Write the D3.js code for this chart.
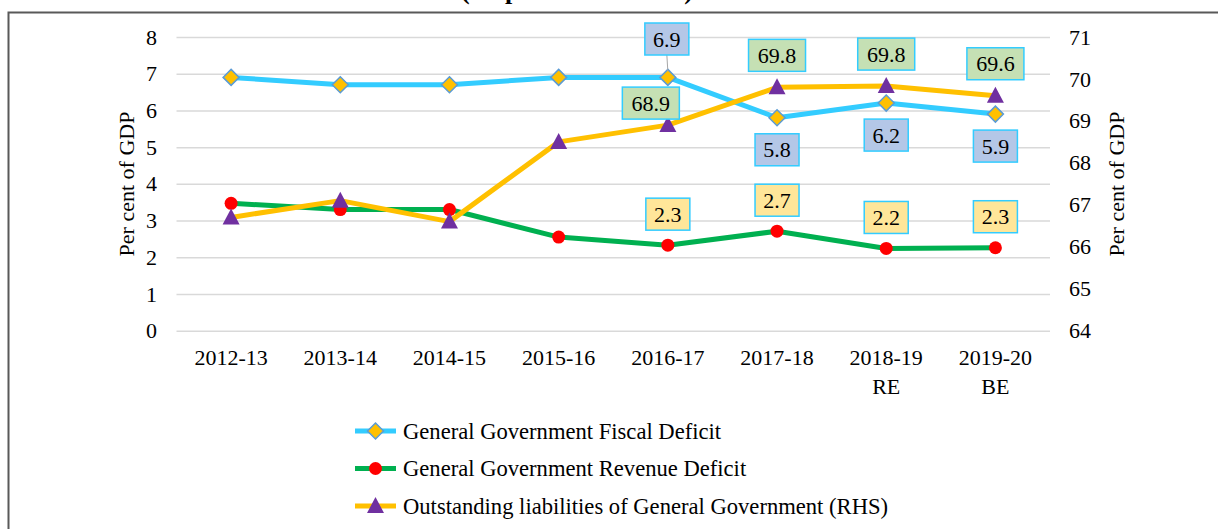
<!DOCTYPE html>
<html>
<head>
<meta charset="utf-8">
<script src="https://cdn.jsdelivr.net/npm/d3@7"></script>
<style>
  body { margin: 0; background: #fff; }
  text { font-family: "Liberation Serif", "Times New Roman", serif; fill: #000; }
</style>
</head>
<body>
<svg id="chart"></svg>
<script>
// chart size
var width = 1218,
    height = 529;

// data
var categories = ["2012-13", "2013-14", "2014-15", "2015-16", "2016-17", "2017-18", "2018-19\nRE", "2019-20\nBE"];
var fiscalDeficit = [6.9, 6.7, 6.7, 6.9, 6.9, 5.8, 6.2, 5.9];
var revenueDeficit = [3.47, 3.3, 3.3, 2.55, 2.33, 2.71, 2.24, 2.26];
var liabilities = [66.7, 67.1, 66.6, 68.5, 68.9, 69.8, 69.83, 69.6];
var leftTicks = [0, 1, 2, 3, 4, 5, 6, 7, 8];
var rightTicks = [64, 65, 66, 67, 68, 69, 70, 71];
var seriesNames = ["General Government Fiscal Deficit",
    "General Government Revenue Deficit",
    "Outstanding liabilities of General Government (RHS)"];
// which points carry a data label
var fiscalLabelled = [4, 5, 6, 7];
var revenueLabelled = [4, 5, 6, 7];
var liabLabelled = [4, 5, 6, 7];

var svg = d3.select("#chart")
    .attr("width", width)
    .attr("height", height);

// title (cut off at the top edge, as in the source picture)
svg.append("text")
    .attr("x", 577)
    .attr("y", -1)
    .attr("text-anchor", "middle")
    .style("font-size", "26px")
    .style("font-weight", "bold")
    .text("(As per cent of GDP)");

// frame
svg.append("path")
    .attr("d", "M8.5," + height + "V12.5H" + width)
    .attr("fill", "none")
    .attr("stroke", "#595959")
    .attr("stroke-width", 2);

// scales
var x = d3.scaleBand()
    .domain(categories)
    .range([176.5, 1050]);
var cx = function (i) { return x(categories[i]) + x.bandwidth() / 2; };

var yL = d3.scaleLinear().domain([0, 8]).range([330.7, 37]);
var yR = d3.scaleLinear().domain([64, 71]).range([330.7, 37]);

// gridlines
svg.append("g")
    .attr("transform", "translate(176.5,0)")
    .call(d3.axisLeft(yL).tickValues(leftTicks).tickSize(-(1050 - 176.5)).tickFormat(""))
    .call(function (g) {
        g.select(".domain").remove();
        g.selectAll("line").attr("stroke", "#d9d9d9").attr("stroke-width", 1.5);
    });

// left axis labels
svg.append("g")
    .attr("transform", "translate(157,0)")
    .call(d3.axisLeft(yL).tickValues(leftTicks).tickSize(0).tickPadding(0).tickFormat(d3.format("d")))
    .call(function (g) {
        g.select(".domain").remove();
        g.selectAll("text").style("font-size", "22px");
    });

// right axis labels
svg.append("g")
    .attr("transform", "translate(1069,0)")
    .call(d3.axisRight(yR).tickValues(rightTicks).tickSize(0).tickPadding(0).tickFormat(d3.format("d")))
    .call(function (g) {
        g.select(".domain").remove();
        g.selectAll("text").style("font-size", "22px");
    });

// x axis labels, two lines where needed
var xl = svg.append("g");
categories.forEach(function (c, i) {
    var t = xl.append("text")
        .attr("text-anchor", "middle")
        .style("font-size", "22px");
    c.split("\n").forEach(function (part, j) {
        t.append("tspan")
            .attr("x", cx(i))
            .attr("y", 365 + j * 29)
            .text(part);
    });
});

// axis titles
svg.append("text")
    .attr("transform", "translate(134,184) rotate(-90)")
    .attr("text-anchor", "middle")
    .style("font-size", "22px")
    .text("Per cent of GDP");
svg.append("text")
    .attr("transform", "translate(1124,184) rotate(-90)")
    .attr("text-anchor", "middle")
    .style("font-size", "22px")
    .text("Per cent of GDP");

// marker helpers
var diamond = function (sel, px, py) {
    sel.append("path")
        .attr("d", "M" + px + "," + (py - 8) + "L" + (px + 8) + "," + py + "L" + px + "," + (py + 8) + "L" + (px - 8) + "," + py + "Z")
        .attr("fill", "#ffc000")
        .attr("stroke", "#5b9bd5")
        .attr("stroke-width", 1.5);
};
var dot = function (sel, px, py) {
    sel.append("circle")
        .attr("cx", px).attr("cy", py).attr("r", 6.5)
        .attr("fill", "#ff0000");
};
var triangle = function (sel, px, py) {
    sel.append("path")
        .attr("d", "M" + px + "," + (py - 9) + "L" + (px + 8.5) + "," + (py + 7) + "L" + (px - 8.5) + "," + (py + 7) + "Z")
        .attr("fill", "#7030a0");
};

var series = [
    { values: fiscalDeficit, y: yL, color: "#33ccff", marker: diamond },
    { values: revenueDeficit, y: yL, color: "#00b050", marker: dot },
    { values: liabilities, y: yR, color: "#ffc000", marker: triangle }
];

// lines and markers
series.forEach(function (s) {
    var line = d3.line()
        .x(function (d, i) { return cx(i); })
        .y(function (d) { return s.y(d); });
    var g = svg.append("g");
    g.append("path")
        .datum(s.values)
        .attr("d", line)
        .attr("fill", "none")
        .attr("stroke", s.color)
        .attr("stroke-width", 5)
        .attr("stroke-linejoin", "round");
    s.values.forEach(function (d, i) {
        s.marker(g, cx(i), s.y(d));
    });
});

// data label boxes
var labels = svg.append("g");
function addLabel(px, py, value, fill, boxW) {
    labels.append("rect")
        .attr("x", px - boxW / 2)
        .attr("y", py - 16)
        .attr("width", boxW)
        .attr("height", 32)
        .attr("fill", fill)
        .attr("stroke", "#33ccff")
        .attr("stroke-width", 1.5);
    labels.append("text")
        .attr("x", px)
        .attr("y", py + 7.5)
        .attr("text-anchor", "middle")
        .style("font-size", "22px")
        .text(value.toFixed(1));
}

// fiscal: first labelled point above with a leader line, the rest below
fiscalLabelled.forEach(function (i, k) {
    var px = cx(i), py = yL(fiscalDeficit[i]);
    if (k == 0) {
        labels.append("line")
            .attr("x1", px - 1).attr("y1", 55)
            .attr("x2", px).attr("y2", py - 6)
            .attr("stroke", "#a6a6a6")
            .attr("stroke-width", 1);
        addLabel(px - 1, 39, fiscalDeficit[i], "#b4c7e7", 44);
    } else {
        addLabel(px, py + 32, fiscalDeficit[i], "#b4c7e7", 44);
    }
});

revenueLabelled.forEach(function (i) {
    addLabel(cx(i), yL(revenueDeficit[i]) - 31, revenueDeficit[i], "#ffe699", 44);
});

liabLabelled.forEach(function (i, k) {
    var px = cx(i), py = yR(liabilities[i]);
    if (k == 0)
        addLabel(px - 17, py - 22, liabilities[i], "#c5e0b4", 57);
    else
        addLabel(px, py - 32, liabilities[i], "#c5e0b4", 57);
});

// legend
var legend = svg.append("g");
series.forEach(function (s, i) {
    var ly = 431 + i * 37.5;
    legend.append("line")
        .attr("x1", 355).attr("x2", 396)
        .attr("y1", ly).attr("y2", ly)
        .attr("stroke", s.color)
        .attr("stroke-width", 5);
    s.marker(legend, 375.5, ly);
    legend.append("text")
        .attr("x", 403)
        .attr("y", ly + 7.5)
        .style("font-size", "22.6px")
        .text(seriesNames[i]);
});
</script>
</body>
</html>
